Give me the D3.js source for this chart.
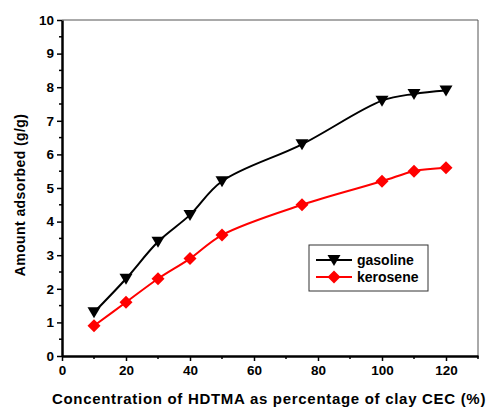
<!DOCTYPE html>
<html>
<head>
<meta charset="utf-8">
<script src="https://cdn.jsdelivr.net/npm/d3@7"></script>
<style>
  body { margin: 0; background: #fff; }
  text { font-family: "Liberation Sans", Arial, sans-serif; font-weight: bold; }
</style>
</head>
<body>
<div id="chart"></div>
<script>
// data
var conc = [10, 20, 30, 40, 50, 75, 100, 110, 120];
var gasoline = [1.3, 2.3, 3.4, 4.2, 5.2, 6.3, 7.6, 7.8, 7.9];
var kerosene = [0.9, 1.6, 2.3, 2.9, 3.6, 4.5, 5.2, 5.5, 5.6];
var xTicks = [0, 20, 40, 60, 80, 100, 120];
var yTicks = [0, 1, 2, 3, 4, 5, 6, 7, 8, 9, 10];
var seriesNames = ["gasoline", "kerosene"];

var svgWidth = 487, svgHeight = 407;
var margin = { top: 20, right: 9, bottom: 51, left: 62 };
var width = svgWidth - margin.left - margin.right;
var height = svgHeight - margin.top - margin.bottom;

var svg = d3.select("#chart").append("svg")
  .attr("width", svgWidth)
  .attr("height", svgHeight);

var g = svg.append("g")
  .attr("transform", `translate(${margin.left}, ${margin.top})`);

var x = d3.scaleLinear().domain([0, 130]).range([0, width]);
var y = d3.scaleLinear().domain([0, 10]).range([height, 0]);

// frame (top and right)
g.append("path")
  .attr("d", `M0,0H${width}V${height}`)
  .attr("fill", "none")
  .attr("stroke", "#555")
  .attr("stroke-width", 1);

// minor ticks
var xMinor = d3.range(10, 131, 20);
var yMinor = d3.range(0.5, 10, 1);

g.selectAll(".xminor").data(xMinor).enter().append("line")
  .attr("x1", d => x(d)).attr("x2", d => x(d))
  .attr("y1", height).attr("y2", height + 3)
  .attr("stroke", "#000").attr("stroke-width", 1.5);

g.selectAll(".yminor").data(yMinor).enter().append("line")
  .attr("x1", 0).attr("x2", -3)
  .attr("y1", d => y(d)).attr("y2", d => y(d))
  .attr("stroke", "#000").attr("stroke-width", 1.5);

// axes
var xAxis = g.append("g")
  .attr("transform", `translate(0, ${height})`)
  .call(d3.axisBottom(x).tickValues(xTicks).tickSize(5).tickSizeOuter(0).tickPadding(4));
var yAxis = g.append("g")
  .call(d3.axisLeft(y).tickValues(yTicks).tickSize(5).tickSizeOuter(0).tickPadding(3));

[xAxis, yAxis].forEach(function(a) {
  a.select(".domain").attr("stroke", "#000").attr("stroke-width", 2.5);
  a.selectAll(".tick line").attr("stroke", "#000").attr("stroke-width", 1.5);
  a.selectAll(".tick text")
    .attr("fill", "#000")
    .style("font-size", "13.5px")
    .style("font-family", "Liberation Sans, Arial, sans-serif")
    .style("font-weight", "bold");
});

// lines
var line = d3.line()
  .x((d, i) => x(conc[i]))
  .y(d => y(d))
  .curve(d3.curveCatmullRom);

var colors = ["#000", "#ff0000"];
[gasoline, kerosene].forEach(function(s, k) {
  g.append("path")
    .datum(s)
    .attr("fill", "none")
    .attr("stroke", colors[k])
    .attr("stroke-width", 2)
    .attr("d", line);
});

var tri = "M-6.5,-5L6.5,-5L0,6Z";
var dia = "M0,-6.5L6.5,0L0,6.5L-6.5,0Z";

g.selectAll(".gas").data(gasoline).enter().append("path")
  .attr("d", tri)
  .attr("fill", "#000")
  .attr("transform", (d, i) => `translate(${x(conc[i])}, ${y(d)})`);

g.selectAll(".ker").data(kerosene).enter().append("path")
  .attr("d", dia)
  .attr("fill", "#ff0000")
  .attr("transform", (d, i) => `translate(${x(conc[i])}, ${y(d)})`);

// legend
var legend = svg.append("g").attr("transform", "translate(309, 245)");
legend.append("rect")
  .attr("width", 119).attr("height", 46)
  .attr("fill", "#fff").attr("stroke", "#333").attr("stroke-width", 1);

seriesNames.forEach(function(name, k) {
  var ly = 15 + k * 17;
  legend.append("line")
    .attr("x1", 7).attr("x2", 43)
    .attr("y1", ly).attr("y2", ly)
    .attr("stroke", colors[k]).attr("stroke-width", 2);
  legend.append("path")
    .attr("d", k === 0 ? tri : dia)
    .attr("fill", colors[k])
    .attr("transform", `translate(25, ${ly})`);
  legend.append("text")
    .attr("x", 48).attr("y", ly + 5)
    .style("font-size", "14px")
    .text(name);
});

// axis titles
svg.append("text")
  .attr("transform", "translate(25, 195) rotate(-90)")
  .attr("text-anchor", "middle")
  .style("font-size", "14px")
  .style("letter-spacing", "0.4px")
  .text("Amount adsorbed (g/g)");

svg.append("text")
  .attr("x", 269)
  .attr("y", 404)
  .attr("text-anchor", "middle")
  .style("font-size", "15px")
  .style("letter-spacing", "0.7px")
  .text("Concentration of HDTMA as percentage of clay CEC (%)");
</script>
</body>
</html>
